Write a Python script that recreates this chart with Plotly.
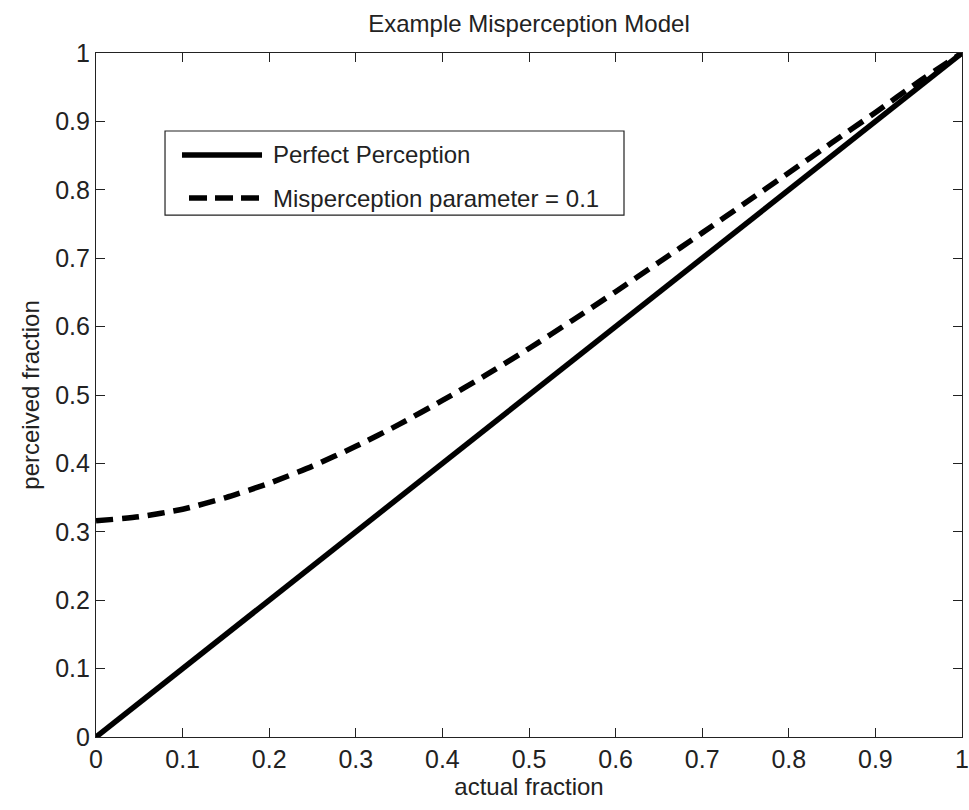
import plotly.graph_objects as go

# ---- data ----
actual = [0.0, 0.05, 0.1, 0.15, 0.2, 0.25, 0.3, 0.35, 0.4, 0.45, 0.5,
          0.55, 0.6, 0.65, 0.7, 0.75, 0.8, 0.85, 0.9, 0.95, 1.0]
perfect = [0.0, 0.05, 0.1, 0.15, 0.2, 0.25, 0.3, 0.35, 0.4, 0.45, 0.5,
           0.55, 0.6, 0.65, 0.7, 0.75, 0.8, 0.85, 0.9, 0.95, 1.0]
misperceived = [0.316, 0.322, 0.333, 0.350, 0.371, 0.396, 0.425, 0.457, 0.492, 0.529, 0.568,
                0.609, 0.651, 0.694, 0.737, 0.781, 0.825, 0.869, 0.913, 0.958, 1.0]
series_names = ["Perfect Perception", "Misperception parameter = 0.1"]
tick_vals = [0, 0.1, 0.2, 0.3, 0.4, 0.5, 0.6, 0.7, 0.8, 0.9, 1]
tick_text = ["0", "0.1", "0.2", "0.3", "0.4", "0.5", "0.6", "0.7", "0.8", "0.9", "1"]

FONT = "Liberation Sans, Arial, sans-serif"
LW = 5.5

fig = go.Figure()
fig.add_trace(go.Scatter(x=actual, y=perfect, mode="lines", name=series_names[0],
                         line=dict(color="black", width=LW), showlegend=False))
fig.add_trace(go.Scatter(x=actual, y=misperceived, mode="lines", name=series_names[1],
                         line=dict(color="black", width=LW, dash="17px,9px", shape="spline",
                                   smoothing=0.6), showlegend=False))

axis_common = dict(range=[0, 1], tickvals=tick_vals, ticktext=tick_text,
                   ticks="inside", ticklen=9, tickwidth=1, tickcolor="#222",
                   showline=True, linecolor="#222", linewidth=1.2, mirror="ticks",
                   showgrid=False, zeroline=False, automargin=False,
                   tickfont=dict(family=FONT, size=25, color="#222"))

fig.update_xaxes(**axis_common,
                 title=dict(text="actual fraction", font=dict(family=FONT, size=24, color="#222"), standoff=4))
fig.update_yaxes(**axis_common,
                 title=dict(text="perceived fraction", font=dict(family=FONT, size=24, color="#222"), standoff=8))

# ---- custom legend (MATLAB style) ----
lx0, lx1, ly_top, ly_bot = 0.0797, 0.6097, 0.886, 0.763
fig.add_shape(type="rect", xref="paper", yref="paper", x0=lx0, x1=lx1, y0=ly_bot, y1=ly_top,
              line=dict(color="#222", width=1.2), fillcolor="white", layer="above")
rows = [(0.851, "solid", 0.0993), (0.788, "18px,8px", 0.1074)]
for (yy, dash, xs), name in zip(rows, series_names):
    fig.add_shape(type="line", xref="paper", yref="paper", x0=xs, x1=0.1917, y0=yy, y1=yy,
                  line=dict(color="black", width=LW, dash=dash), layer="above")
    fig.add_annotation(xref="paper", yref="paper", x=0.2024, y=yy, text=name, showarrow=False,
                       xanchor="left", yanchor="middle",
                       font=dict(family=FONT, size=24, color="#222"))

fig.update_layout(
    width=969, height=810,
    margin=dict(l=96, r=7, t=53, b=73),
    paper_bgcolor="white", plot_bgcolor="white",
    title=dict(text="Example Misperception Model", x=0.5, xref="paper", xanchor="center",
               y=1 - 24 / 810, yanchor="middle", font=dict(family=FONT, size=24, color="#222")),
)

fig.write_html("out.html", config={"displayModeBar": False},
               post_script="document.body.style.margin='0';document.body.style.overflow='hidden';")
